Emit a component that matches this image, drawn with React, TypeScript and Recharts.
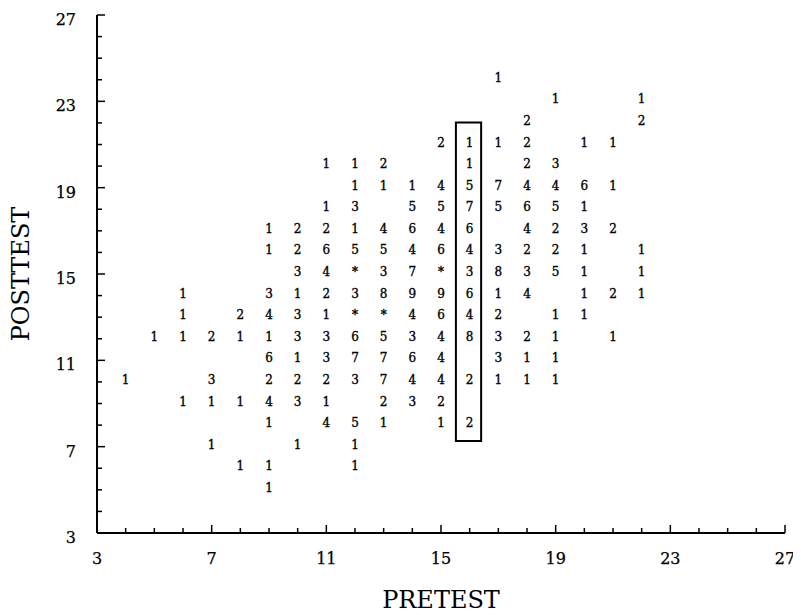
import React from 'react';
import { ScatterChart, Scatter, XAxis, YAxis, ReferenceArea } from 'recharts';

// Each posttest row lists [pretest score, number of students] cells.
// '*' marks a cell with ten or more students.
type Cell = [number, string];

const post24: Cell[] = [[17, '1']];
const post23: Cell[] = [[19, '1'], [22, '1']];
const post22: Cell[] = [[18, '2'], [22, '2']];
const post21: Cell[] = [[15, '2'], [16, '1'], [17, '1'], [18, '2'], [20, '1'], [21, '1']];
const post20: Cell[] = [[11, '1'], [12, '1'], [13, '2'], [16, '1'], [18, '2'], [19, '3']];
const post19: Cell[] = [[12, '1'], [13, '1'], [14, '1'], [15, '4'], [16, '5'], [17, '7'], [18, '4'], [19, '4'], [20, '6'], [21, '1']];
const post18: Cell[] = [[11, '1'], [12, '3'], [14, '5'], [15, '5'], [16, '7'], [17, '5'], [18, '6'], [19, '5'], [20, '1']];
const post17: Cell[] = [[9, '1'], [10, '2'], [11, '2'], [12, '1'], [13, '4'], [14, '6'], [15, '4'], [16, '6'], [18, '4'], [19, '2'], [20, '3'], [21, '2']];
const post16: Cell[] = [[9, '1'], [10, '2'], [11, '6'], [12, '5'], [13, '5'], [14, '4'], [15, '6'], [16, '4'], [17, '3'], [18, '2'], [19, '2'], [20, '1'], [22, '1']];
const post15: Cell[] = [[10, '3'], [11, '4'], [12, '*'], [13, '3'], [14, '7'], [15, '*'], [16, '3'], [17, '8'], [18, '3'], [19, '5'], [20, '1'], [22, '1']];
const post14: Cell[] = [[6, '1'], [9, '3'], [10, '1'], [11, '2'], [12, '3'], [13, '8'], [14, '9'], [15, '9'], [16, '6'], [17, '1'], [18, '4'], [20, '1'], [21, '2'], [22, '1']];
const post13: Cell[] = [[6, '1'], [8, '2'], [9, '4'], [10, '3'], [11, '1'], [12, '*'], [13, '*'], [14, '4'], [15, '6'], [16, '4'], [17, '2'], [19, '1'], [20, '1']];
const post12: Cell[] = [[5, '1'], [6, '1'], [7, '2'], [8, '1'], [9, '1'], [10, '3'], [11, '3'], [12, '6'], [13, '5'], [14, '3'], [15, '4'], [16, '8'], [17, '3'], [18, '2'], [19, '1'], [21, '1']];
const post11: Cell[] = [[9, '6'], [10, '1'], [11, '3'], [12, '7'], [13, '7'], [14, '6'], [15, '4'], [17, '3'], [18, '1'], [19, '1']];
const post10: Cell[] = [[4, '1'], [7, '3'], [9, '2'], [10, '2'], [11, '2'], [12, '3'], [13, '7'], [14, '4'], [15, '4'], [16, '2'], [17, '1'], [18, '1'], [19, '1']];
const post9: Cell[] = [[6, '1'], [7, '1'], [8, '1'], [9, '4'], [10, '3'], [11, '1'], [13, '2'], [14, '3'], [15, '2']];
const post8: Cell[] = [[9, '1'], [11, '4'], [12, '5'], [13, '1'], [15, '1'], [16, '2']];
const post7: Cell[] = [[7, '1'], [10, '1'], [12, '1']];
const post6: Cell[] = [[8, '1'], [9, '1'], [12, '1']];
const post5: Cell[] = [[9, '1']];

const posttestRows: [number, Cell[]][] = [
  [24, post24], [23, post23], [22, post22], [21, post21], [20, post20],
  [19, post19], [18, post18], [17, post17], [16, post16], [15, post15],
  [14, post14], [13, post13], [12, post12], [11, post11], [10, post10],
  [9, post9], [8, post8], [7, post7], [6, post6], [5, post5],
];

// Axis scale: every integer gets a tick, every fourth one a label.
const axisDomain: [number, number] = [3, 27];
const axisTicks = [3, 4, 5, 6, 7, 8, 9, 10, 11, 12, 13, 14, 15, 16, 17, 18, 19, 20, 21, 22, 23, 24, 25, 26, 27];
const labeledTicks = [3, 7, 11, 15, 19, 23, 27];

// Outline around the pretest = 16 column.
const highlightPretest: [number, number] = [15.52, 16.4];
const highlightPosttest: [number, number] = [7.26, 22.02];

const cells = posttestRows.flatMap(([post, row]) =>
  row.map(([pre, label]) => ({ pre, post, label }))
);

const SERIF = '"DejaVu Serif", serif';

const CountGlyph = (props: any) => {
  const { cx, cy, payload } = props;
  return (
    <text
      x={cx}
      y={cy + 2}
      textAnchor="middle"
      fontFamily={SERIF}
      fontSize={12}
      fill="#000"
      stroke="#000"
      strokeWidth={0.35}
    >
      {payload.label}
    </text>
  );
};

const XTick = (props: any) => {
  const { x, y, payload } = props;
  const v = payload.value;
  const major = labeledTicks.includes(v);
  return (
    <g>
      <line x1={x} y1={y} x2={x} y2={y - (major ? 8 : 5)} stroke="#000" strokeWidth={1.5} />
      {major && (
        <text
          x={x}
          y={y + 31}
          textAnchor="middle"
          fontFamily={SERIF}
          fontSize={16}
          fill="#000"
          stroke="#000"
          strokeWidth={0.25}
        >
          {v}
        </text>
      )}
    </g>
  );
};

const YTick = (props: any) => {
  const { x, y, payload } = props;
  const v = payload.value;
  const major = labeledTicks.includes(v);
  return (
    <g>
      <line x1={x} y1={y} x2={x + (major ? 8 : 5)} y2={y} stroke="#000" strokeWidth={1.5} />
      {major && (
        <text
          x={x - 21}
          y={y + 10}
          textAnchor="end"
          fontFamily={SERIF}
          fontSize={16}
          fill="#000"
          stroke="#000"
          strokeWidth={0.25}
        >
          {v}
        </text>
      )}
    </g>
  );
};

export default function App() {
  return (
    <div style={{ width: 793, height: 607, background: '#fff' }}>
      <ScatterChart width={793} height={607} margin={{ top: 7, right: 16, left: 0, bottom: 0 }}>
        <XAxis
          dataKey="pre"
          type="number"
          domain={axisDomain}
          ticks={axisTicks}
          interval={0}
          tickSize={0}
          tickMargin={0}
          tickLine={false}
          axisLine={{ stroke: '#000', strokeWidth: 2 }}
          tick={<XTick />}
          height={82}
          label={{
            value: 'PRETEST',
            position: 'insideBottom',
            offset: 7,
            fontFamily: SERIF,
            fontSize: 24,
            fill: '#000',
          }}
        />
        <YAxis
          dataKey="post"
          type="number"
          domain={axisDomain}
          ticks={axisTicks}
          interval={0}
          tickSize={0}
          tickMargin={0}
          tickLine={false}
          axisLine={{ stroke: '#000', strokeWidth: 2 }}
          tick={<YTick />}
          width={89}
          label={{
            value: 'POSTTEST',
            position: 'insideLeft',
            angle: -90,
            offset: 12,
            textAnchor: 'middle',
            fontFamily: SERIF,
            fontSize: 24,
            fill: '#000',
          }}
        />
        <ReferenceArea
          x1={highlightPretest[0]}
          x2={highlightPretest[1]}
          y1={highlightPosttest[0]}
          y2={highlightPosttest[1]}
          fill="none"
          stroke="#000"
          strokeWidth={2}
        />
        <Scatter data={cells} shape={CountGlyph} isAnimationActive={false} />
      </ScatterChart>
    </div>
  );
}
